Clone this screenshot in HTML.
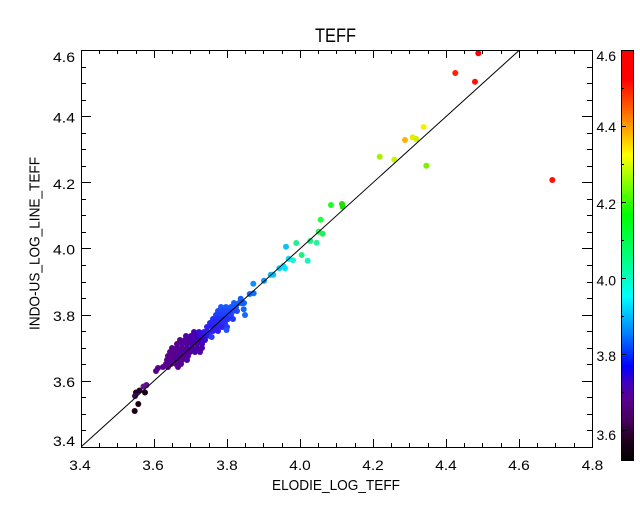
<!DOCTYPE html>
<html><head><meta charset="utf-8"><style>
html,body{margin:0;padding:0;background:#fff;}
svg{display:block;font-family:"Liberation Sans",sans-serif;}
</style></head><body>
<svg width="640" height="512" viewBox="0 0 640 512" xmlns="http://www.w3.org/2000/svg">
<defs>
<linearGradient id="cb" x1="0" y1="1" x2="0" y2="0">
<stop offset="0" stop-color="#000000"/>
<stop offset="0.05" stop-color="#200020"/>
<stop offset="0.10" stop-color="#480060"/>
<stop offset="0.15" stop-color="#580090"/>
<stop offset="0.19" stop-color="#4000c0"/>
<stop offset="0.23" stop-color="#0000ff"/>
<stop offset="0.31" stop-color="#0080ff"/>
<stop offset="0.40" stop-color="#00ffff"/>
<stop offset="0.48" stop-color="#00ff90"/>
<stop offset="0.60" stop-color="#00ff00"/>
<stop offset="0.70" stop-color="#b0ff00"/>
<stop offset="0.745" stop-color="#ffff00"/>
<stop offset="0.80" stop-color="#ffb000"/>
<stop offset="0.87" stop-color="#ff5000"/>
<stop offset="0.93" stop-color="#ff0000"/>
<stop offset="1" stop-color="#ff0000"/>
</linearGradient>
</defs>
<rect width="640" height="512" fill="#fff"/>

<!-- points -->
<g>
<!-- upper -->
<circle cx="478.3" cy="53.3" r="3" fill="#ff0000"/>
<circle cx="455.3" cy="73" r="3" fill="#ff2000"/>
<circle cx="475" cy="81.7" r="3" fill="#ff1000"/>
<circle cx="423.7" cy="127" r="3" fill="#f8f000"/>
<circle cx="405" cy="140" r="3" fill="#ffb000"/>
<circle cx="412.7" cy="137.3" r="3" fill="#e0f000"/>
<circle cx="416.3" cy="139" r="3" fill="#d0f000"/>
<circle cx="379.7" cy="156.7" r="3" fill="#a8f000"/>
<circle cx="394.3" cy="159.7" r="3" fill="#d0f000"/>
<circle cx="426.3" cy="165.7" r="3" fill="#80f000"/>
<circle cx="552.3" cy="180" r="3" fill="#ff1000"/>
<!-- middle -->
<circle cx="331" cy="205" r="3" fill="#20ff20"/>
<circle cx="342" cy="204" r="3" fill="#20e000"/>
<circle cx="342.7" cy="206.7" r="3" fill="#20e000"/>
<circle cx="320.7" cy="219.7" r="3" fill="#20ff40"/>
<circle cx="318.7" cy="231.7" r="3" fill="#20f060"/>
<circle cx="322.7" cy="233.7" r="3" fill="#20f060"/>
<circle cx="310.3" cy="241" r="3" fill="#20f080"/>
<circle cx="296.3" cy="243" r="3" fill="#20f090"/>
<circle cx="316.7" cy="242.7" r="3" fill="#30f0a0"/>
<circle cx="286" cy="246.7" r="3" fill="#10c0f0"/>
<circle cx="301.7" cy="255" r="3" fill="#20f080"/>
<circle cx="307.7" cy="260.7" r="3" fill="#20f0c0"/>
<circle cx="288.7" cy="258.7" r="3" fill="#00e0ff"/>
<circle cx="293" cy="260.3" r="3" fill="#20f0d0"/>
<circle cx="285" cy="268.3" r="3" fill="#00e8ff"/>
<circle cx="279.3" cy="268.3" r="3" fill="#10d0ff"/>
<circle cx="283.3" cy="266" r="3" fill="#00e0ff"/>
<circle cx="270.7" cy="274.7" r="3" fill="#10c0f0"/>
<circle cx="273.3" cy="274.7" r="3" fill="#10c0f0"/>
<circle cx="264" cy="280.7" r="3" fill="#1090ff"/>
<circle cx="253.3" cy="283.7" r="3" fill="#1090ff"/>
<circle cx="253.7" cy="293.3" r="3" fill="#1070ff"/>
<circle cx="249.7" cy="294" r="3" fill="#1070ff"/>
<circle cx="240.7" cy="298.7" r="3" fill="#1060ff"/>
<!-- blue cluster -->
<circle cx="234" cy="303" r="3" fill="#1060ff"/>
<circle cx="239" cy="303" r="3" fill="#1060ff"/>
<circle cx="244" cy="303" r="3" fill="#1060ff"/>
<circle cx="241.7" cy="303.3" r="3" fill="#1060ff"/>
<circle cx="243.7" cy="309.3" r="3" fill="#1068ff"/>
<circle cx="245" cy="315" r="3" fill="#1868ff"/>
<circle cx="221" cy="307" r="3" fill="#1858ff"/>
<circle cx="226" cy="307" r="3" fill="#1858ff"/>
<circle cx="231" cy="307" r="3" fill="#1858ff"/>
<circle cx="236" cy="307" r="3" fill="#1858ff"/>
<circle cx="218" cy="311" r="3" fill="#2048ff"/>
<circle cx="223" cy="311" r="3" fill="#2048ff"/>
<circle cx="228" cy="311" r="3" fill="#2048ff"/>
<circle cx="233" cy="311" r="3" fill="#2048ff"/>
<circle cx="237" cy="311" r="3" fill="#2048ff"/>
<circle cx="216" cy="315" r="3" fill="#2040ff"/>
<circle cx="221" cy="315" r="3" fill="#2040ff"/>
<circle cx="226" cy="315" r="3" fill="#2040ff"/>
<circle cx="231" cy="315" r="3" fill="#2040ff"/>
<circle cx="213" cy="319" r="3" fill="#2030ff"/>
<circle cx="218" cy="319" r="3" fill="#2030ff"/>
<circle cx="223" cy="319" r="3" fill="#2030ff"/>
<circle cx="228" cy="319" r="3" fill="#2030ff"/>
<circle cx="233" cy="319" r="3" fill="#2038ff"/>
<circle cx="210" cy="323" r="3" fill="#2828f8"/>
<circle cx="215" cy="323" r="3" fill="#2828f8"/>
<circle cx="220" cy="323" r="3" fill="#2828f8"/>
<circle cx="225" cy="323" r="3" fill="#2830f8"/>
<circle cx="207" cy="327" r="3" fill="#3020f0"/>
<circle cx="212" cy="327" r="3" fill="#3020f0"/>
<circle cx="217" cy="327" r="3" fill="#3020f0"/>
<circle cx="222" cy="327" r="3" fill="#3020f0"/>
<circle cx="227" cy="327" r="3" fill="#2838f8"/>
<circle cx="213" cy="331" r="3" fill="#3020f0"/>
<circle cx="218" cy="331" r="3" fill="#3020f0"/>
<circle cx="226.5" cy="330" r="3" fill="#2050ff"/>
<circle cx="210" cy="336" r="3" fill="#3020f0"/>
<circle cx="211.7" cy="337" r="3" fill="#2840f8"/>
<!-- purple cluster -->
<circle cx="194" cy="332" r="3" fill="#4800b0"/>
<circle cx="199" cy="332" r="3" fill="#3810d8"/>
<circle cx="204" cy="332" r="3" fill="#3018e8"/>
<circle cx="208" cy="332" r="3" fill="#2820f0"/>
<circle cx="186" cy="336" r="3" fill="#5000a0"/>
<circle cx="191" cy="336" r="3" fill="#4c00a8"/>
<circle cx="196" cy="336" r="3" fill="#4400b8"/>
<circle cx="201" cy="336" r="3" fill="#3810d8"/>
<circle cx="206" cy="336" r="3" fill="#3018e8"/>
<circle cx="180" cy="340" r="3" fill="#5a0090"/>
<circle cx="185" cy="340" r="3" fill="#52009c"/>
<circle cx="190" cy="340" r="3" fill="#4a00a8"/>
<circle cx="195" cy="340" r="3" fill="#4800b0"/>
<circle cx="200" cy="340" r="3" fill="#4000c0"/>
<circle cx="205" cy="340" r="3" fill="#3808d0"/>
<circle cx="177" cy="344" r="3" fill="#58008c"/>
<circle cx="182" cy="344" r="3" fill="#5000a0"/>
<circle cx="187" cy="344" r="3" fill="#52009c"/>
<circle cx="192" cy="344" r="3" fill="#4a00a8"/>
<circle cx="197" cy="344" r="3" fill="#4c00a8"/>
<circle cx="202" cy="344" r="3" fill="#4400b8"/>
<circle cx="172" cy="348" r="3" fill="#5a0090"/>
<circle cx="177" cy="348" r="3" fill="#52009c"/>
<circle cx="182" cy="348" r="3" fill="#58008c"/>
<circle cx="187" cy="348" r="3" fill="#5000a0"/>
<circle cx="192" cy="348" r="3" fill="#4a00a8"/>
<circle cx="197" cy="348" r="3" fill="#5000a0"/>
<circle cx="202" cy="348" r="3" fill="#4800b0"/>
<circle cx="170" cy="352" r="3" fill="#5a0090"/>
<circle cx="175" cy="352" r="3" fill="#58008c"/>
<circle cx="180" cy="352" r="3" fill="#52009c"/>
<circle cx="185" cy="352" r="3" fill="#5000a0"/>
<circle cx="190" cy="352" r="3" fill="#52009c"/>
<circle cx="195" cy="352" r="3" fill="#4a00a8"/>
<circle cx="200" cy="352" r="3" fill="#5000a0"/>
<circle cx="168" cy="356" r="3" fill="#5a0090"/>
<circle cx="173" cy="356" r="3" fill="#58008c"/>
<circle cx="178" cy="356" r="3" fill="#52009c"/>
<circle cx="183" cy="356" r="3" fill="#5a0090"/>
<circle cx="188" cy="356" r="3" fill="#5000a0"/>
<circle cx="167" cy="360" r="3" fill="#58008c"/>
<circle cx="172" cy="360" r="3" fill="#5a0090"/>
<circle cx="177" cy="360" r="3" fill="#52009c"/>
<circle cx="182" cy="360" r="3" fill="#58008c"/>
<circle cx="187" cy="360" r="3" fill="#5000a0"/>
<circle cx="166" cy="364" r="3" fill="#5a0090"/>
<circle cx="171" cy="364" r="3" fill="#58008c"/>
<circle cx="176" cy="364" r="3" fill="#5a0098"/>
<circle cx="181" cy="364" r="3" fill="#560090"/>
<circle cx="178" cy="367" r="3" fill="#560090"/>
<circle cx="158" cy="368" r="3" fill="#580090"/>
<circle cx="163" cy="367" r="3" fill="#580090"/>
<circle cx="168" cy="367" r="3" fill="#5a0090"/>
<circle cx="156" cy="371" r="3" fill="#580090"/>
<!-- dark tail -->
<circle cx="146.5" cy="385" r="3" fill="#5a1090"/>
<circle cx="143.5" cy="386.5" r="3" fill="#601488"/>
<circle cx="139.5" cy="390.5" r="3" fill="#280028"/>
<circle cx="136" cy="392.5" r="3" fill="#200020"/>
<circle cx="145" cy="392.5" r="3" fill="#1a0014"/>
<circle cx="135" cy="396" r="3" fill="#3c0a50"/>
<circle cx="138.3" cy="404" r="3" fill="#1e0018"/>
<circle cx="134.7" cy="411" r="3" fill="#1a0010"/>
</g>

<!-- diagonal -->
<path d="M81.5 446.5 L519 50.5" stroke="#000" stroke-width="1" fill="none"/>

<!-- frame -->
<rect x="81.5" y="50.5" width="511" height="397" fill="none" stroke="#000" stroke-width="1"/>

<!-- x ticks -->
<path stroke="#000" stroke-width="1" fill="none" d="
M154.5 447V439 M227.5 447V439 M300.5 447V439 M373.5 447V439 M446.5 447V439 M519.5 447V439
M154.5 50V58 M227.5 50V58 M300.5 50V58 M373.5 50V58 M446.5 50V58 M519.5 50V58
M99.5 447V443 M117.5 447V443 M136.5 447V443 M172.5 447V443 M190.5 447V443 M209.5 447V443 M245.5 447V443 M263.5 447V443 M282.5 447V443 M318.5 447V443 M336.5 447V443 M355.5 447V443 M391.5 447V443 M409.5 447V443 M428.5 447V443 M464.5 447V443 M482.5 447V443 M501.5 447V443 M537.5 447V443 M555.5 447V443 M574.5 447V443
M99.5 50V54 M117.5 50V54 M136.5 50V54 M172.5 50V54 M190.5 50V54 M209.5 50V54 M245.5 50V54 M263.5 50V54 M282.5 50V54 M318.5 50V54 M336.5 50V54 M355.5 50V54 M391.5 50V54 M409.5 50V54 M428.5 50V54 M464.5 50V54 M482.5 50V54 M501.5 50V54 M537.5 50V54 M555.5 50V54 M574.5 50V54
"/>
<!-- y ticks -->
<path stroke="#000" stroke-width="1" fill="none" d="
M81 381.5H91 M81 315.5H91 M81 248.5H91 M81 182.5H91 M81 116.5H91
M592 381.5H582 M592 315.5H582 M592 248.5H582 M592 182.5H582 M592 116.5H582
M81 430.5H86 M81 414.5H86 M81 397.5H86 M81 364.5H86 M81 348.5H86 M81 331.5H86 M81 298.5H86 M81 282.5H86 M81 265.5H86 M81 232.5H86 M81 215.5H86 M81 199.5H86 M81 166.5H86 M81 149.5H86 M81 133.5H86 M81 100.5H86 M81 83.5H86 M81 67.5H86
M592 430.5H587 M592 414.5H587 M592 397.5H587 M592 364.5H587 M592 348.5H587 M592 331.5H587 M592 298.5H587 M592 282.5H587 M592 265.5H587 M592 232.5H587 M592 215.5H587 M592 199.5H587 M592 166.5H587 M592 149.5H587 M592 133.5H587 M592 100.5H587 M592 83.5H587 M592 67.5H587
"/>

<!-- x tick labels -->
<g font-size="14" fill="#000" text-anchor="middle">
<text x="80" y="470" textLength="21.5" lengthAdjust="spacingAndGlyphs">3.4</text>
<text x="153" y="470" textLength="21.5" lengthAdjust="spacingAndGlyphs">3.6</text>
<text x="227" y="470" textLength="21.5" lengthAdjust="spacingAndGlyphs">3.8</text>
<text x="300" y="470" textLength="21.5" lengthAdjust="spacingAndGlyphs">4.0</text>
<text x="373" y="470" textLength="21.5" lengthAdjust="spacingAndGlyphs">4.2</text>
<text x="446" y="470" textLength="21.5" lengthAdjust="spacingAndGlyphs">4.4</text>
<text x="519" y="470" textLength="21.5" lengthAdjust="spacingAndGlyphs">4.6</text>
<text x="592.5" y="470" textLength="21.5" lengthAdjust="spacingAndGlyphs">4.8</text>
</g>
<!-- y tick labels -->
<g font-size="14" fill="#000" text-anchor="end">
<text x="75" y="62" textLength="22" lengthAdjust="spacingAndGlyphs">4.6</text>
<text x="75" y="122.5" textLength="22" lengthAdjust="spacingAndGlyphs">4.4</text>
<text x="75" y="189" textLength="22" lengthAdjust="spacingAndGlyphs">4.2</text>
<text x="75" y="254.5" textLength="22" lengthAdjust="spacingAndGlyphs">4.0</text>
<text x="75" y="321" textLength="22" lengthAdjust="spacingAndGlyphs">3.8</text>
<text x="75" y="387" textLength="22" lengthAdjust="spacingAndGlyphs">3.6</text>
<text x="75" y="446" textLength="22" lengthAdjust="spacingAndGlyphs">3.4</text>
</g>

<!-- titles -->
<text x="335.5" y="42" font-size="19" text-anchor="middle" textLength="41" lengthAdjust="spacingAndGlyphs">TEFF</text>
<text x="336" y="490" font-size="14.5" text-anchor="middle" textLength="128" lengthAdjust="spacingAndGlyphs">ELODIE_LOG_TEFF</text>
<text transform="translate(39.5,243.5) rotate(-90)" x="0" y="0" font-size="14.5" text-anchor="middle" textLength="173" lengthAdjust="spacingAndGlyphs">INDO-US_LOG_LINE_TEFF</text>

<!-- colorbar -->
<rect x="621.5" y="50.5" width="12" height="410" fill="url(#cb)" stroke="#000" stroke-width="1"/>
<path stroke="#000" stroke-width="1" fill="none" d="
M622 126.5H626 M622 202.5H626 M622 278.5H626 M622 354.5H626 M622 430.5H626
M622 88.5H624 M622 164.5H624 M622 240.5H624 M622 316.5H624 M622 392.5H624
"/>
<g font-size="13.5" fill="#000" text-anchor="end">
<text x="616" y="61" textLength="19.5" lengthAdjust="spacingAndGlyphs">4.6</text>
<text x="616" y="132" textLength="19.5" lengthAdjust="spacingAndGlyphs">4.4</text>
<text x="616" y="209" textLength="19.5" lengthAdjust="spacingAndGlyphs">4.2</text>
<text x="616" y="285.5" textLength="19.5" lengthAdjust="spacingAndGlyphs">4.0</text>
<text x="616" y="361" textLength="19.5" lengthAdjust="spacingAndGlyphs">3.8</text>
<text x="616" y="440" textLength="19.5" lengthAdjust="spacingAndGlyphs">3.6</text>
</g>
</svg>
</body></html>
